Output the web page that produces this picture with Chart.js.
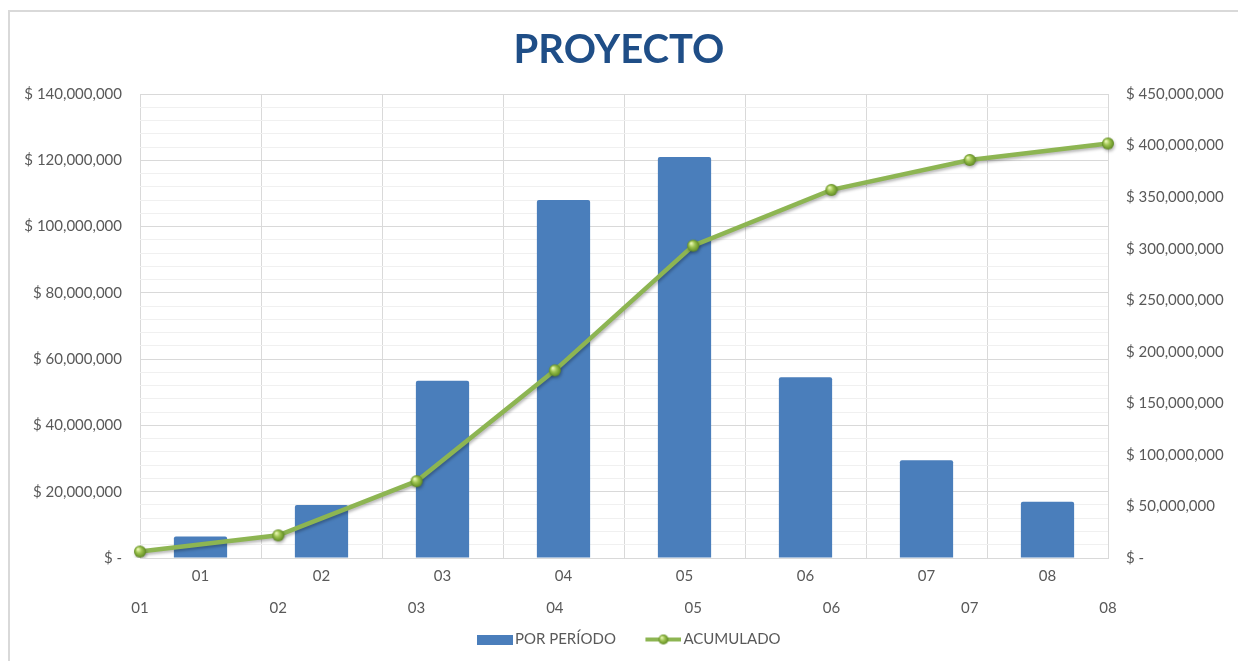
<!DOCTYPE html>
<html>
<head>
<meta charset="utf-8">
<script src="https://cdn.jsdelivr.net/npm/chart.js@4.4.1/dist/chart.umd.min.js"></script>
<style>
  html, body { margin: 0; padding: 0; background: #fff; overflow: hidden; }
  #frame { position: absolute; left: 8px; top: 10px; width: 1400px; height: 800px;
           border-top: 2px solid #d9d9d9; border-left: 2px solid #d9d9d9; }
  #wrap { position: absolute; left: 0; top: 0; width: 1238px; height: 661px; }
</style>
</head>
<body>
<div id="frame"></div>
<div id="wrap"><canvas id="chart-proyecto"></canvas></div>
<script>
// datos
var periodos = ['01', '02', '03', '04', '05', '06', '07', '08'];
var porPeriodo = [6500000, 16000000, 53500000, 108000000, 121000000, 54500000, 29500000, 17000000];
var acumulado = [6300000, 22000000, 74500000, 182000000, 303000000, 357000000, 386000000, 402000000];

var FONT = 'Lato';
var GRAY = '#595959';
var BLUE = '#4a7ebb';
var GREEN = '#8db552';

function money(v) {
  if (v === 0) return '$ -';
  return '$ ' + v.toLocaleString('en-US');
}

function sphere(r) {
  var c = document.createElement('canvas');
  c.width = r * 2 + 4; c.height = r * 2 + 4;
  var g = c.getContext('2d');
  var cx = r + 2, cy = r + 2;
  var grd = g.createRadialGradient(cx - r * 0.35, cy - r * 0.4, r * 0.1, cx, cy, r);
  grd.addColorStop(0, '#e6f5b0');
  grd.addColorStop(0.45, '#9cc24e');
  grd.addColorStop(1, '#5f8a22');
  g.beginPath(); g.arc(cx, cy, r, 0, Math.PI * 2);
  g.fillStyle = grd; g.fill();
  return c;
}

// legend images: transparent margin on the left, mark on the right
var LEG_W = 61, LEG_M = 25;

function legendBar() {
  var c = document.createElement('canvas');
  c.width = LEG_W; c.height = 10;
  var g = c.getContext('2d');
  g.fillStyle = BLUE;
  g.fillRect(LEG_M, 0, 36, 10);
  return c;
}

function legendLine() {
  var c = document.createElement('canvas');
  c.width = LEG_W; c.height = 14;
  var g = c.getContext('2d');
  g.strokeStyle = GREEN; g.lineWidth = 4;
  g.beginPath(); g.moveTo(LEG_M, 7); g.lineTo(LEG_M + 36, 7); g.stroke();
  g.drawImage(sphere(5), LEG_M + 18 - 7, 0);
  return c;
}

var shadowPlugin = {
  id: 'shadowLine',
  beforeDatasetDraw: function(chart, args) {
    if (args.meta.type !== 'line') return;
    var ctx = chart.ctx;
    ctx.save();
    ctx.shadowColor = 'rgba(0,0,0,0.28)';
    ctx.shadowBlur = 3;
    ctx.shadowOffsetX = 1;
    ctx.shadowOffsetY = 2;
  },
  afterDatasetDraw: function(chart, args) {
    if (args.meta.type !== 'line') return;
    chart.ctx.restore();
  }
};

var ctx = document.getElementById('chart-proyecto');
var legendImgs = [legendBar(), legendLine()];

new Chart(ctx, {
  data: {
    labels: periodos,
    datasets: [{
      type: 'bar',
      label: 'POR PERÍODO',
      data: porPeriodo,
      backgroundColor: BLUE,
      borderRadius: { topLeft: 2, topRight: 2 },
      borderSkipped: 'bottom',
      barPercentage: 0.44,
      categoryPercentage: 1,
      grouped: false,
      xAxisID: 'x',
      yAxisID: 'y',
      order: 1
    }, {
      type: 'line',
      label: 'ACUMULADO',
      data: acumulado,
      borderColor: GREEN,
      borderWidth: 4.5,
      pointStyle: sphere(6),
      pointRadius: 6,
      tension: 0,
      xAxisID: 'x2',
      yAxisID: 'y1',
      order: 0
    }]
  },
  options: {
    responsive: true,
    maintainAspectRatio: false,
    animation: false,
    layout: { padding: { left: 10, right: 10, top: 8, bottom: 4 } },
    plugins: {
      title: {
        display: true,
        text: 'PROYECTO',
        color: '#1f4e87',
        font: { family: FONT, size: 40, weight: 'bold' },
        padding: { top: 18, bottom: 20 }
      },
      legend: {
        position: 'bottom',
        labels: {
          color: GRAY,
          font: { family: FONT, size: 15 },
          usePointStyle: true,
          pointStyleWidth: 50,
          padding: 10,
          sort: function(a, b) { return a.datasetIndex - b.datasetIndex; },
          generateLabels: function(chart) {
            var items = Chart.defaults.plugins.legend.labels.generateLabels(chart);
            items.forEach(function(it) { it.pointStyle = legendImgs[it.datasetIndex]; });
            return items;
          }
        }
      },
      tooltip: { enabled: false }
    },
    scales: {
      x: {
        type: 'category',
        position: 'bottom',
        offset: true,
        weight: 0,
        grid: { color: '#d9d9d9', offset: true, drawTicks: false },
        border: { color: '#d9d9d9' },
        ticks: { color: GRAY, font: { family: FONT, size: 15 }, padding: 9 }
      },
      x2: {
        type: 'category',
        position: 'bottom',
        offset: false,
        weight: 1,
        grid: { display: false, drawTicks: false },
        border: { display: false },
        ticks: { color: GRAY, font: { family: FONT, size: 15 }, padding: 5, autoSkip: false, maxRotation: 0 }
      },
      y: {
        position: 'left',
        min: 0,
        max: 140000000,
        grid: {
          drawTicks: false,
          color: function(c) { return c.tick && c.tick.value % 20000000 === 0 ? '#d9d9d9' : '#f0f0f0'; }
        },
        border: { display: false },
        ticks: {
          stepSize: 4000000,
          autoSkip: false,
          color: GRAY,
          font: { family: FONT, size: 15 },
          padding: 18,
          callback: function(v) { return v % 20000000 === 0 ? money(v) : ''; }
        },
        afterFit: function(scale) { scale.width = 130; }
      },
      y1: {
        position: 'right',
        min: 0,
        max: 450000000,
        grid: { display: false, drawTicks: false },
        border: { display: false },
        ticks: {
          stepSize: 50000000,
          color: GRAY,
          font: { family: FONT, size: 15 },
          padding: 18,
          callback: function(v) { return money(v); }
        },
        afterFit: function(scale) { scale.width = 120; }
      }
    }
  },
  plugins: [shadowPlugin]
});
</script>
</body>
</html>
